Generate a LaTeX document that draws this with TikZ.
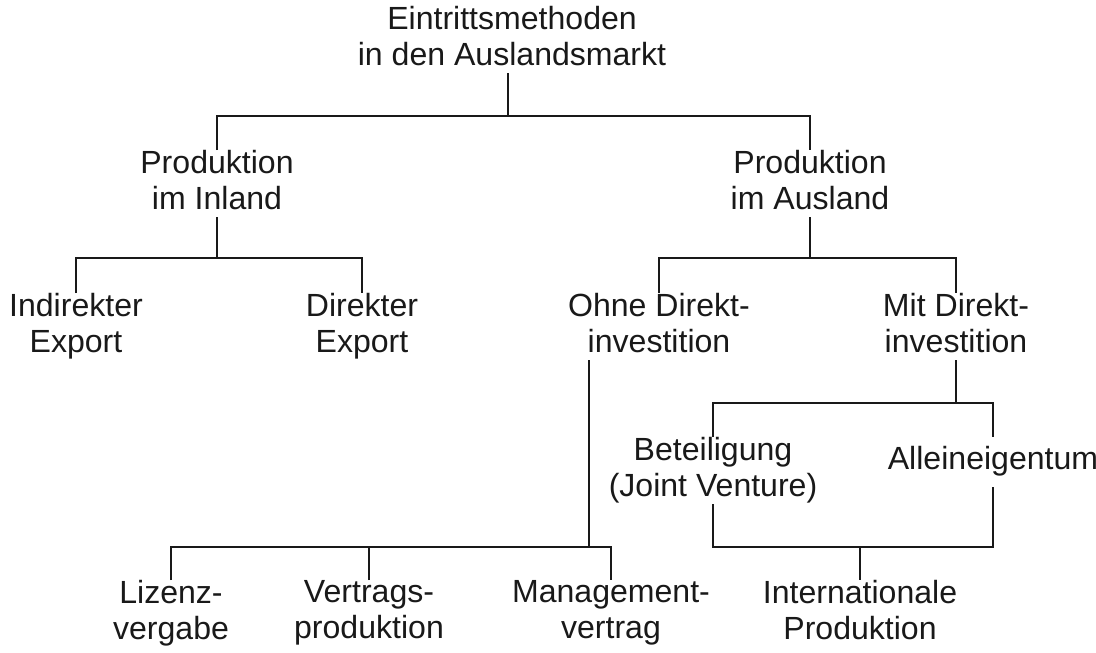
\documentclass[tikz,border=0pt]{standalone}
\usepackage{fontspec}
\setmainfont{Liberation Sans}
\usepackage{tikz}
\usetikzlibrary{positioning, calc}
\definecolor{mydark}{RGB}{25,25,25}
\newcommand{\topstrut}{\rule{0pt}{22.8pt}}
\newcommand{\botstrut}{\rule[-5.7pt]{0pt}{5.7pt}}
\tikzset{
  method/.style={inner sep=0pt, outer sep=0pt, anchor=north, align=center,
    text=mydark, font=\fontsize{22.8}{25.6}\selectfont,
    execute at begin node=\topstrut, execute at end node=\botstrut},
  link/.style={line width=1.2pt, color=mydark}
}
\begin{document}
\begin{tikzpicture}[x=0.025cm, y=-0.025cm]
  \useasboundingbox (0,0) rectangle (1096,652);
  % ── Entry methods ──────────────────────────────────────────────────────────
  \node[method] (root) at (512,6) {Eintrittsmethoden\\in den Auslandsmarkt};
  \node[method] (inl) at (217,150) {Produktion\\im Inland};
  \node[method] (ausl) at (810,150) {Produktion\\im Ausland};
  \node[method] (indir) at (76,293) {Indirekter\\Export};
  \node[method] (direkt) at (362,293) {Direkter\\Export};
  \node[method] (ohne) at (659,293) {Ohne Direkt-\\investition};
  \node[method] (mit) at (956,293) {Mit Direkt-\\investition};
  \node[method] (beteil) at (713,437) {Beteiligung\\(Joint Venture)};
  \node[method] (alone) at (993,437) {Alleineigentum};
  \node[method] (lizenz) at (171,580) {Lizenz-\\vergabe};
  \node[method] (vertrag) at (369,580) {Vertrags-\\produktion};
  \node[method] (mgmt) at (611,580) {Management-\\vertrag};
  \node[method] (intl) at (860,580) {Internationale\\Produktion};

  % ── Junctions ──────────────────────────────────────────────────────────────
  \coordinate (j1) at (508,116);
  \coordinate (j2) at (217,258);
  \coordinate (j3) at (810,258);
  \coordinate (j4) at (956,403);
  \coordinate (j5) at (589,547);
  \coordinate (j6) at (860,547);

  % ── Connectors ─────────────────────────────────────────────────────────────
  \draw[link] (root.south -| j1) -- (j1);
  \draw[link] (inl.north) |- (j1) -| (ausl.north);
  \draw[link] (inl.south) -- (j2);
  \draw[link] (indir.north) |- (j2) -| (direkt.north);
  \draw[link] (ausl.south) -- (j3);
  \draw[link] (ohne.north) |- (j3) -| (mit.north);
  \draw[link] (mit.south) -- (j4);
  \draw[link] (beteil.north) |- (j4) -| (alone.north);
  \draw[link] (ohne.south -| j5) -- (j5);
  \draw[link] (lizenz.north) |- (j5) -| (mgmt.north);
  \draw[link] (vertrag.north) -- (vertrag.north |- j5);
  \draw[link] (beteil.south) |- (j6) -| ([yshift=-7pt]alone.south);
  \draw[link] (j6) -- (intl.north);
\end{tikzpicture}
\end{document}
